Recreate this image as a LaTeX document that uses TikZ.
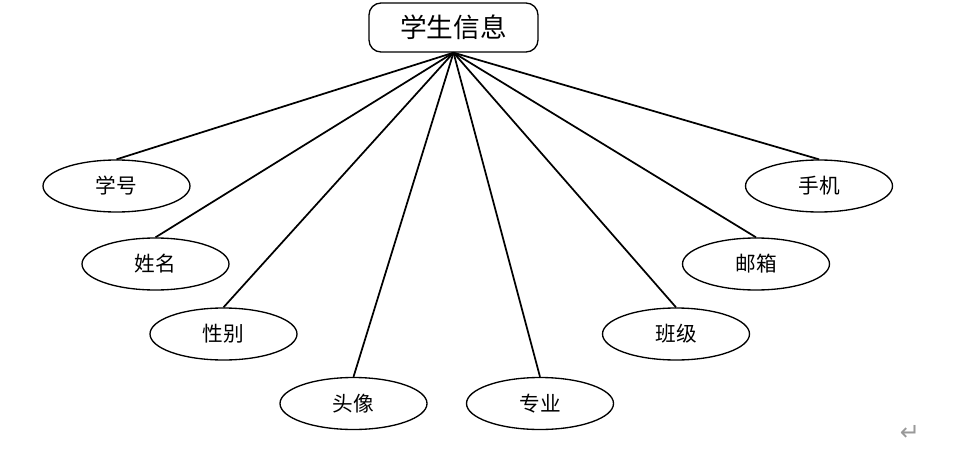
\documentclass[tikz,border=0pt]{standalone}
\usepackage{fontspec}
\setmainfont{Noto Sans CJK SC}
\newfontfamily\symfont{DejaVu Sans}
\usetikzlibrary{shapes.geometric}
\begin{document}
\begin{tikzpicture}[x=0.75pt,y=-0.75pt]
\tikzstyle{entity} = [draw, rounded corners=9pt, line width=1pt, minimum width=126.75pt, minimum height=36.75pt, inner sep=0pt, font=\fontsize{20}{20}\selectfont]
\tikzstyle{attr} = [draw, shape=ellipse, line width=1pt, minimum width=110.25pt, minimum height=39pt, inner sep=0pt, font=\fontsize{15.5}{15.5}\selectfont]
\tikzstyle{link} = [line width=1.3pt]

\useasboundingbox (0,0) rectangle (966,449);

\node[entity] (info) at (453.5,27.5) {学生信息};

\node[attr] (xuehao) at (116.5,186) {学号};
\node[attr] (xingming) at (155.5,264) {姓名};
\node[attr] (xingbie) at (223.5,334) {性别};
\node[attr] (touxiang) at (353.5,403.5) {头像};
\node[attr] (zhuanye) at (540,403.5) {专业};
\node[attr] (banji) at (676,334) {班级};
\node[attr] (youxiang) at (756,264) {邮箱};
\node[attr] (shouji) at (819,186) {手机};

\foreach \n in {xuehao,xingming,xingbie,touxiang,zhuanye,banji,youxiang,shouji}
  \draw[link] (info.south) -- (\n.north);

\node[text=gray!80, font=\symfont\fontsize{18}{18}\selectfont] (mark) at (910,433) {↵};

\end{tikzpicture}
\end{document}
